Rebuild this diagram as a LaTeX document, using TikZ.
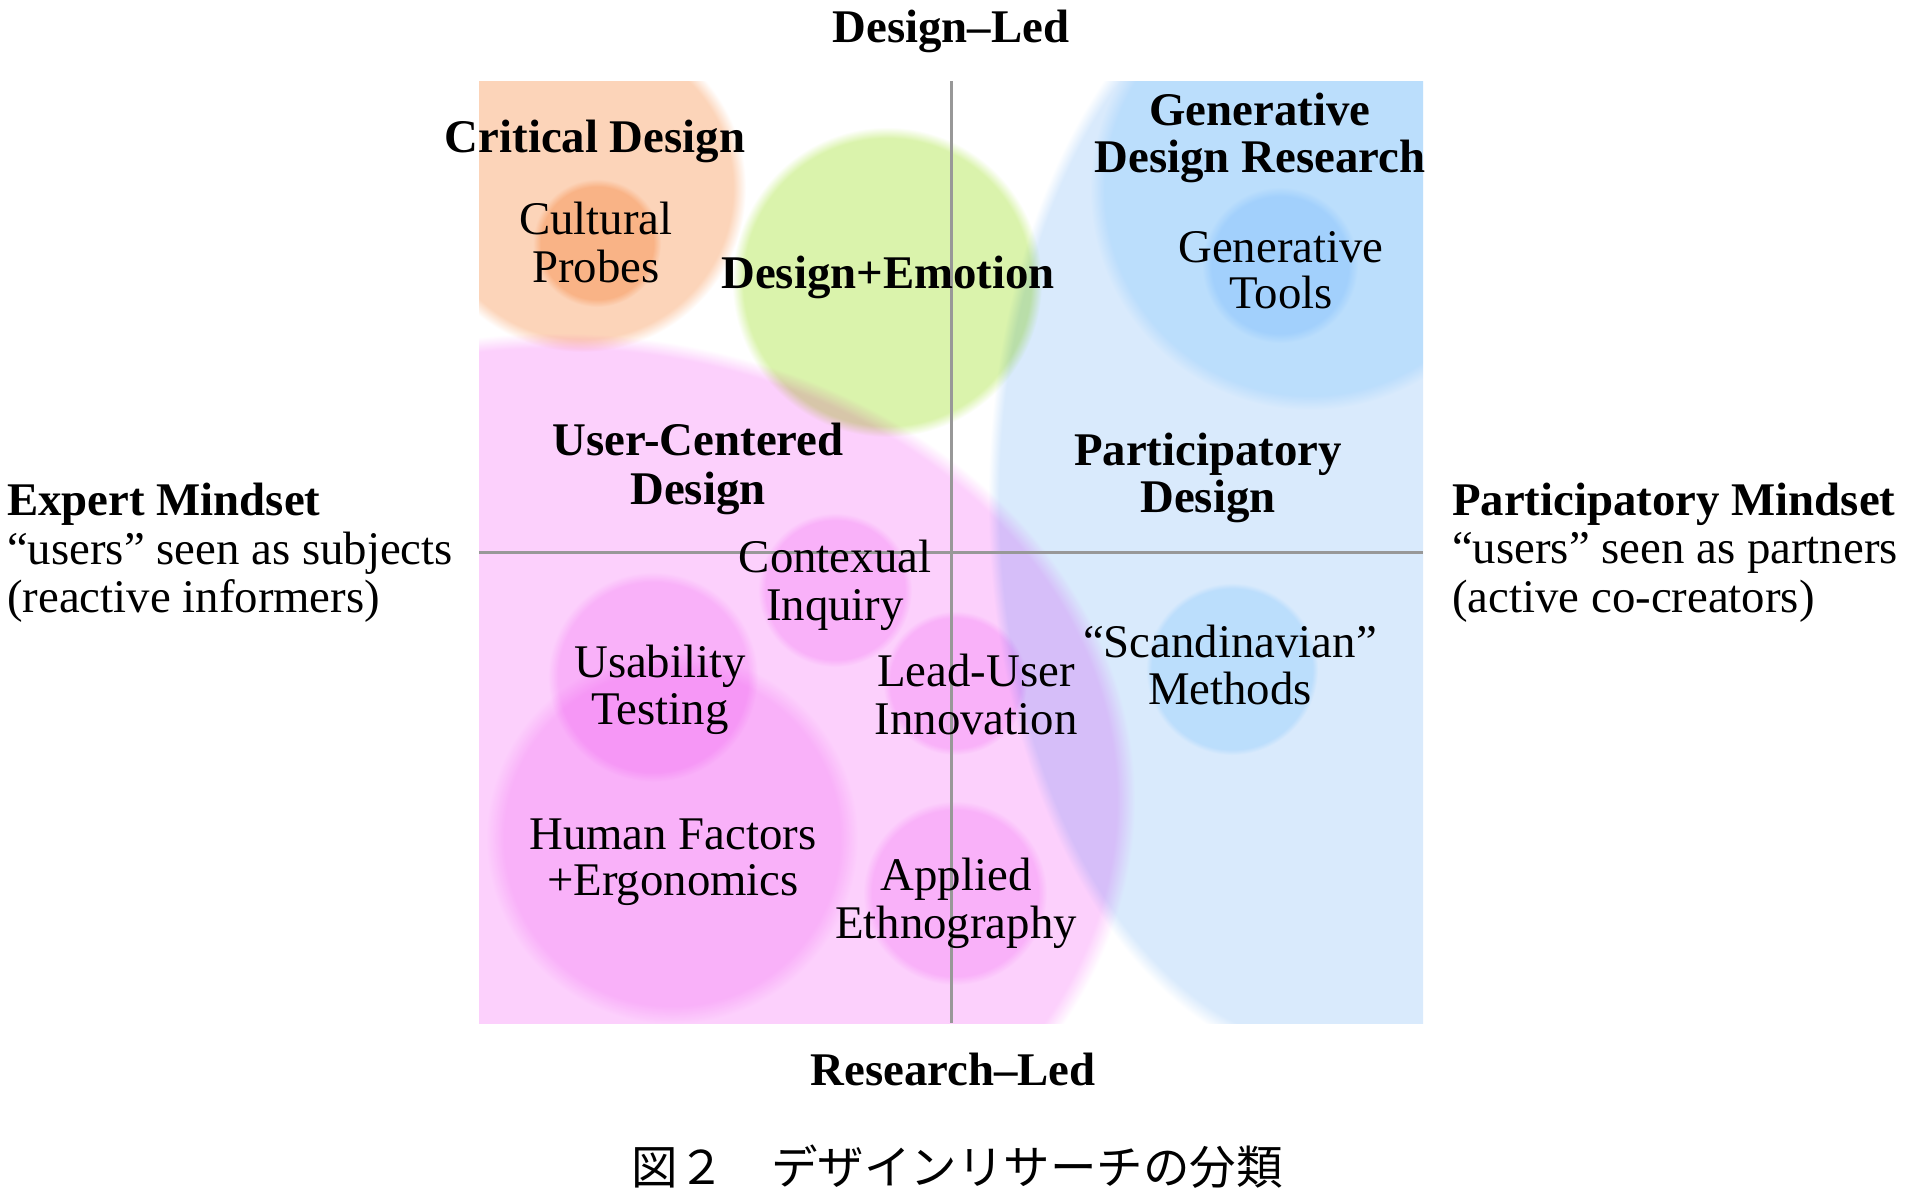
\documentclass[tikz,border=0pt]{standalone}
\usepackage{fontspec}
\setmainfont{Liberation Serif}
\newfontfamily\cjk{Noto Sans CJK JP}
\definecolor{orO}{RGB}{252,212,185}
\definecolor{orI}{RGB}{252,216,186}
\definecolor{grC}{RGB}{218,243,172}
\definecolor{pkO}{RGB}{252,208,252}
\definecolor{pkI}{RGB}{252,218,252}
\definecolor{blO}{RGB}{217,234,252}
\definecolor{blG}{RGB}{220,242,255}
\definecolor{blT}{RGB}{222,240,255}
\definecolor{axisgray}{RGB}{152,152,152}
% soft-edged radial fills: flat colour, fading to white at the rim (edge = 25bp)
\pgfdeclareradialshading{soft-orO}{\pgfpoint{0bp}{0bp}}{color(0bp)=(orO); color(23bp)=(orO); color(25bp)=(white); color(50bp)=(white)}
\pgfdeclareradialshading{soft-orI}{\pgfpoint{0bp}{0bp}}{color(0bp)=(orI); color(22bp)=(orI); color(25bp)=(white); color(50bp)=(white)}
\pgfdeclareradialshading{soft-grC}{\pgfpoint{0bp}{0bp}}{color(0bp)=(grC); color(23.2bp)=(grC); color(25bp)=(white); color(50bp)=(white)}
\pgfdeclareradialshading{soft-pkO}{\pgfpoint{0bp}{0bp}}{color(0bp)=(pkO); color(24.2bp)=(pkO); color(25bp)=(white); color(50bp)=(white)}
\pgfdeclareradialshading{soft-pkI}{\pgfpoint{0bp}{0bp}}{color(0bp)=(pkI); color(22.6bp)=(pkI); color(25bp)=(white); color(50bp)=(white)}
\pgfdeclareradialshading{soft-blO}{\pgfpoint{0bp}{0bp}}{color(0bp)=(blO); color(24.2bp)=(blO); color(25bp)=(white); color(50bp)=(white)}
\pgfdeclareradialshading{soft-blG}{\pgfpoint{0bp}{0bp}}{color(0bp)=(blG); color(23.3bp)=(blG); color(25bp)=(white); color(50bp)=(white)}
\pgfdeclareradialshading{soft-blT}{\pgfpoint{0bp}{0bp}}{color(0bp)=(blT); color(22bp)=(blT); color(25bp)=(white); color(50bp)=(white)}
\begin{document}
\begin{tikzpicture}[x=1pt,y=-1pt,
  lbl/.style={font=\fontsize{46.8}{48}\selectfont, inner sep=0pt, anchor=base},
  blbl/.style={font=\fontsize{46.8}{48}\selectfont\bfseries, inner sep=0pt, anchor=base},
  axisline/.style={draw=axisgray, line width=3pt}]
\useasboundingbox (0,0) rectangle (1916,1194);
\fill[white] (0,0) rectangle (1916,1194);
% bubbles
\begin{scope}[blend mode=multiply]
  \clip (479,81) rectangle (1423,1023);
  \shade[shading=soft-blO] (1340,500) ellipse [x radius=352pt, y radius=567pt];
  \shade[shading=soft-blG] (1310,190) circle [radius=220pt];
  \shade[shading=soft-blT] (1280,265) circle [radius=78pt];
  \shade[shading=soft-blG] (1232,669) circle [radius=86pt];
  \shade[shading=soft-pkO] (555,800) ellipse [x radius=580pt, y radius=467pt];
  \shade[shading=soft-pkI] (835,590) circle [radius=77pt];
  \shade[shading=soft-pkI] (653,677) circle [radius=105pt];
  \shade[shading=soft-pkI] (672,838) circle [radius=186pt];
  \shade[shading=soft-pkI] (955,683) circle [radius=72pt];
  \shade[shading=soft-pkI] (955,893) circle [radius=92pt];
  \shade[shading=soft-orO] (582,188) circle [radius=164pt];
  \shade[shading=soft-orI] (597,243) circle [radius=64pt];
  \shade[shading=soft-grC] (887,282) circle [radius=155pt];
\end{scope}
% axes
\coordinate (vtop) at (951,81);
\coordinate (vbot) at (951,1023);
\coordinate (hl) at (479,552);
\coordinate (hr) at (1423,552);
\draw[axisline] (vtop) -- (vbot);
\draw[axisline] (hl) -- (hr);
% axis labels
\node[blbl] (dled) at (951,42) {Design–Led};
\node[blbl] (rled) at (953,1085) {Research–Led};
\node[blbl, anchor=base west] (em1) at (7,515) {Expert Mindset};
\node[lbl, anchor=base west] (em2) at (7,564) {“users” seen as subjects};
\node[lbl, anchor=base west] (em3) at (7,612) {(reactive informers)};
\node[blbl, anchor=base west] (pm1) at (1452,515) {Participatory Mindset};
\node[lbl, anchor=base west] (pm2) at (1452,563) {“users” seen as partners};
\node[lbl, anchor=base west] (pm3) at (1452,612) {(active co-creators)};
% bubble labels
\node[blbl] (cd) at (595,152) {Critical Design};
\node[lbl] (cp1) at (596,234) {Cultural};
\node[lbl] (cp2) at (596,282) {Probes};
\node[blbl] (de) at (888,288) {Design+Emotion};
\node[blbl] (gd1) at (1260,125) {Generative};
\node[blbl] (gd2) at (1260,172) {Design Research};
\node[lbl] (gt1) at (1281,262) {Generative};
\node[lbl] (gt2) at (1281,308) {Tools};
\node[blbl] (uc1) at (698,455) {User-Centered};
\node[blbl] (uc2) at (698,504) {Design};
\node[blbl] (pd1) at (1208,465) {Participatory};
\node[blbl] (pd2) at (1208,512) {Design};
\node[lbl] (ci1) at (835,572) {Contexual};
\node[lbl] (ci2) at (835,620) {Inquiry};
\node[lbl] (ut1) at (660,677) {Usability};
\node[lbl] (ut2) at (660,724) {Testing};
\node[lbl] (lu1) at (976,686) {Lead-User};
\node[lbl] (lu2) at (976,734) {Innovation};
\node[lbl] (sm1) at (1230,657) {“Scandinavian”};
\node[lbl] (sm2) at (1230,704) {Methods};
\node[lbl] (hf1) at (673,849) {Human Factors};
\node[lbl] (hf2) at (673,895) {+Ergonomics};
\node[lbl] (ae1) at (956,890) {Applied};
\node[lbl] (ae2) at (956,938) {Ethnography};
% caption
\node[font=\cjk\fontsize{46.5}{48}\selectfont, inner sep=0pt, anchor=base] (cap) at (957,1184) {図２　デザインリサーチの分類};
\end{tikzpicture}
\end{document}
